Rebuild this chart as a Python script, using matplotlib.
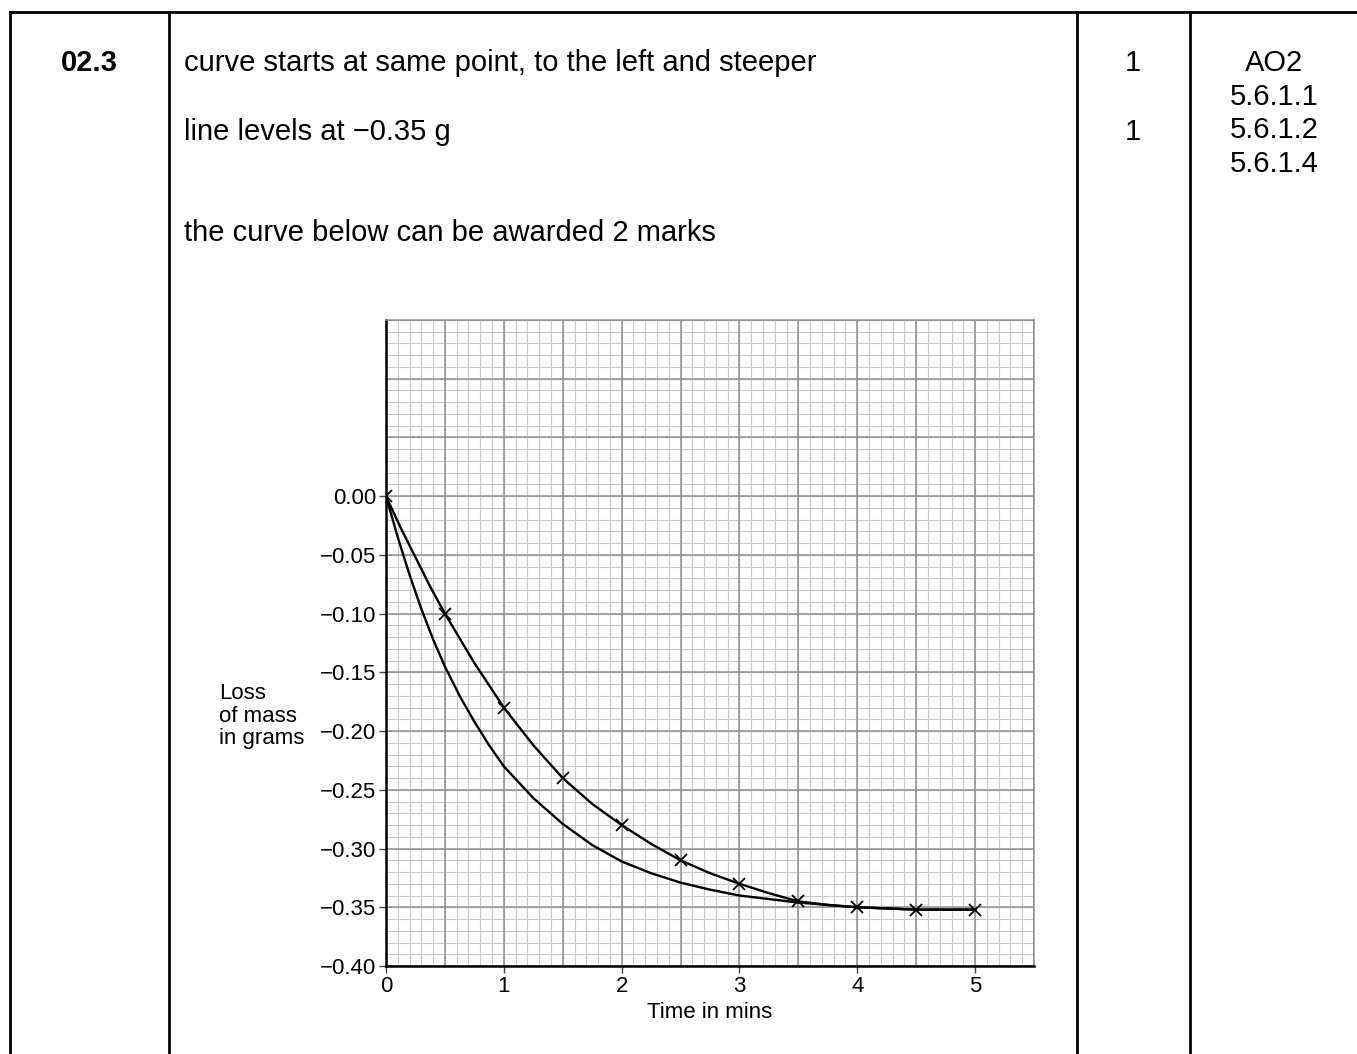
import numpy as np
import matplotlib.pyplot as plt
from matplotlib.lines import Line2D

plt.rcParams['font.family'] = ['Liberation Sans', 'DejaVu Sans']

# punti misurati (crocette) sulla curva di partenza
tempo_punti = [0, 0.5, 1.0, 1.5, 2.0, 2.5, 3.0, 3.5, 4.0, 4.5, 5.0]
massa_punti = [0.0, -0.100, -0.180, -0.240, -0.280, -0.310, -0.330, -0.345, -0.350, -0.352, -0.352]

# curva di partenza letta più fitta
tempo_orig = [0, 0.125, 0.25, 0.375, 0.5, 0.75, 1.0, 1.25, 1.5, 1.75, 2.0, 2.25, 2.5, 2.75, 3.0, 3.25, 3.5,
              3.75, 4.0, 4.5, 5.0]
massa_orig = [0.0, -0.027, -0.052, -0.077, -0.100, -0.142, -0.180, -0.212, -0.240, -0.262, -0.280, -0.296,
              -0.310, -0.321, -0.330, -0.338, -0.345, -0.348, -0.350, -0.352, -0.352]

# curva nuova, più ripida
tempo_nuova = [0, 0.1, 0.2, 0.3, 0.4, 0.5, 0.625, 0.75, 0.875, 1.0, 1.25, 1.5, 1.75, 2.0, 2.25, 2.5, 2.75,
               3.0, 3.5, 4.0, 4.5, 5.0]
massa_nuova = [0.0, -0.035, -0.067, -0.096, -0.122, -0.145, -0.170, -0.192, -0.212, -0.230, -0.257, -0.279,
               -0.297, -0.311, -0.321, -0.329, -0.335, -0.340, -0.346, -0.350, -0.352, -0.352]

yticks = [-0.40, -0.35, -0.30, -0.25, -0.20, -0.15, -0.10, -0.05, 0.00]
ytick_labels = ['\u22120.40', '\u22120.35', '\u22120.30', '\u22120.25', '\u22120.20', '\u22120.15',
                '\u22120.10', '\u22120.05', '0.00']
xticks = [0, 1, 2, 3, 4, 5]
xtick_labels = ['0', '1', '2', '3', '4', '5']

W, H = 1357, 1054


def fx(x):
    return x / W


def fy(y):
    return 1 - y / H


fig = plt.figure(figsize=(W / 100, H / 100), dpi=100)

# bordi della tabella
lw_tab = 2.0
fig.add_artist(Line2D([fx(10), 1.0], [fy(12), fy(12)], color='black', lw=lw_tab))
for xl in [10, 169, 1077, 1190]:
    fig.add_artist(Line2D([fx(xl), fx(xl)], [fy(12), 0.0], color='black', lw=lw_tab))

fs_tab = 21
fig.text(fx(89), fy(63), '02.3', fontsize=fs_tab, fontweight='bold', ha='center', va='center')
fig.text(fx(184), fy(63), 'curve starts at same point, to the left and steeper', fontsize=fs_tab,
         ha='left', va='center')
fig.text(fx(184), fy(132), 'line levels at \u22120.35 g', fontsize=fs_tab, ha='left', va='center')
fig.text(fx(184), fy(233), 'the curve below can be awarded 2 marks', fontsize=fs_tab, ha='left', va='center')
fig.text(fx(1133), fy(63), '1', fontsize=fs_tab, ha='center', va='center')
fig.text(fx(1133), fy(132), '1', fontsize=fs_tab, ha='center', va='center')
ao_righe = ['AO2', '5.6.1.1', '5.6.1.2', '5.6.1.4']
for i, r in enumerate(ao_righe):
    fig.text(fx(1274), fy(63 + i * 33.7), r, fontsize=fs_tab, ha='center', va='center')

# grafico
ax = fig.add_axes([fx(386), fy(966), (1034 - 386) / W, (966 - 320) / H])
ax.set_xlim(0, 5.5)
ax.set_ylim(-0.40, 0.15)

# carta millimetrata
ax.vlines(np.arange(0, 5.51, 0.1), -0.40, 0.15, color='#c8c8c8', lw=0.8, zorder=1)
ax.hlines(np.arange(-0.40, 0.151, 0.01), 0, 5.5, color='#c8c8c8', lw=0.8, zorder=1)
ax.vlines(np.arange(0, 5.51, 0.5), -0.40, 0.15, color='#8f8f8f', lw=1.1, zorder=2)
ax.hlines(np.arange(-0.40, 0.151, 0.05), 0, 5.5, color='#8f8f8f', lw=1.1, zorder=2)

ax.plot(tempo_orig, massa_orig, color='black', lw=1.7, zorder=4)
ax.plot(tempo_nuova, massa_nuova, color='black', lw=1.7, zorder=4)
ax.plot(tempo_punti, massa_punti, linestyle='none', marker='x', color='black', ms=8, mew=1.3, zorder=5)

ax.spines['left'].set_linewidth(1.8)
ax.spines['bottom'].set_linewidth(1.8)
ax.spines['top'].set_color('#8f8f8f')
ax.spines['right'].set_color('#8f8f8f')
ax.spines['top'].set_linewidth(1.1)
ax.spines['right'].set_linewidth(1.1)
for s in ax.spines.values():
    s.set_zorder(6)

ax.set_yticks(yticks)
ax.set_yticklabels(ytick_labels)
ax.set_xticks(xticks)
ax.set_xticklabels(xtick_labels)
ax.tick_params(axis='both', labelsize=16, length=5, width=1.0, color='#444444', pad=2)

ax.set_xlabel('Time in mins', fontsize=16, labelpad=4)
fig.text(fx(219), fy(716), 'Loss\nof mass\nin grams', fontsize=16, ha='left', va='center', linespacing=1.08)

fig.savefig('out.png', dpi=100, facecolor='white')
